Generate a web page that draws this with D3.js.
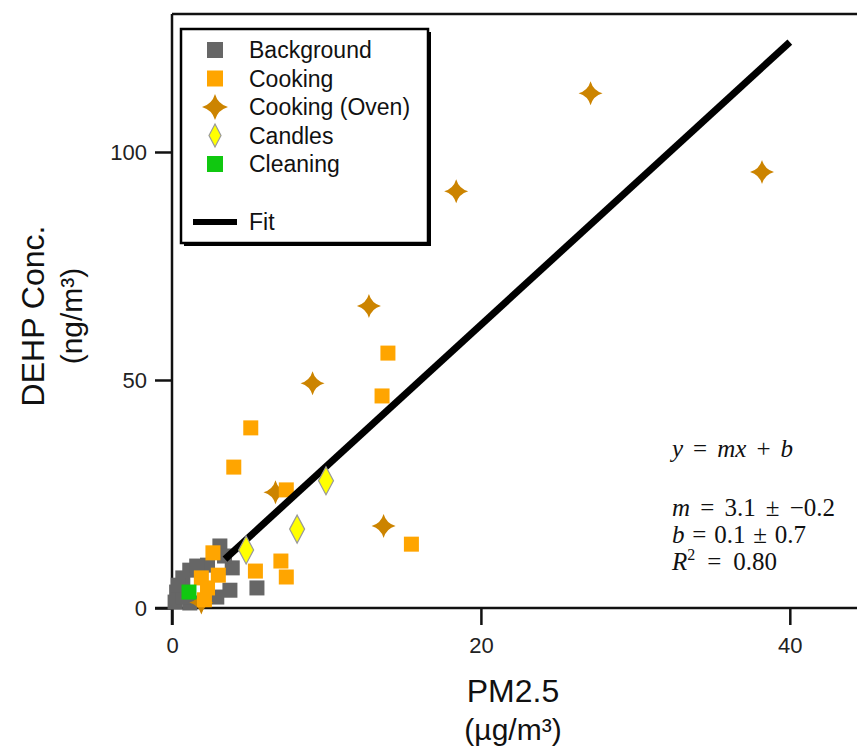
<!DOCTYPE html>
<html>
<head>
<meta charset="utf-8">
<script src="https://cdn.jsdelivr.net/npm/d3@7"></script>
<style>
  html, body { margin: 0; padding: 0; background: #fff; }
  svg { display: block; }
</style>
</head>
<body>
<svg id="chart" width="857" height="748"></svg>
<script>
// ---------- data ----------
const backgroundX = [3.1, 5.5, 1.15, 0.7, 0.3, 0.2, 1.15, 3.9, 3.75, 2.9, 2.3, 3.4, 0.7, 1.6, 0.4];
const backgroundY = [13.6, 4.4, 8.3, 6.6, 3.5, 1.3, 1.1, 8.8, 3.9, 2.4, 9.4, 11.4, 2.4, 9.2, 5.0];

const cookingX = [13.98, 13.6, 5.1, 4.0, 7.4, 15.5, 7.05, 5.4, 7.4, 2.65, 3.0, 1.9, 2.1, 2.3];
const cookingY = [55.9, 46.5, 39.5, 30.9, 25.9, 14.0, 10.3, 8.1, 6.8, 12.1, 7.2, 6.6, 1.8, 4.4];

const ovenX = [27.1, 38.2, 18.4, 12.75, 9.1, 6.7, 13.7, 1.9];
const ovenY = [112.9, 95.6, 91.4, 66.2, 49.3, 25.4, 18.0, 1.2];

const candlesX = [9.97, 8.1, 4.8];
const candlesY = [27.9, 17.3, 12.7];

const cleaningX = [1.1];
const cleaningY = [3.5];

const fitSlope = 3.1, fitIntercept = 0.1;
const fitRange = [3.43, 40];

const xTicks = [0, 20, 40];
const yTicks = [0, 50, 100];
const legendLabels = ["Background", "Cooking", "Cooking (Oven)", "Candles", "Cleaning", "Fit"];

// ---------- layout ----------
const svg = d3.select("#chart");
const x = d3.scaleLinear().domain([0, 44.35]).range([172, 857]);
const y = d3.scaleLinear().domain([0, 130.26]).range([608, 14]);

const COL_BG = "#666666", COL_COOK = "#FFA500", COL_OVEN = "#CC8400",
      COL_CANDLE = "#FFFF00", COL_CLEAN = "#10C810";
const fontSans = "Liberation Sans, Arial, sans-serif";

function starPath(r) {
  const c = r * 0.22;
  return `M0,${-r} Q${c},${-c} ${r},0 Q${c},${c} 0,${r} Q${-c},${c} ${-r},0 Q${-c},${-c} 0,${-r}Z`;
}
function diamondPath(w, h) {
  return `M0,${-h/2} L${w/2},0 L0,${h/2} L${-w/2},0Z`;
}
const zip = (a, b) => a.map((v, i) => [v, b[i]]);

// ---------- frame / axes ----------
const axisColor = "#111";
svg.append("line").attr("x1", x(0)).attr("x2", 857).attr("y1", y.range()[1]).attr("y2", y.range()[1])
  .attr("stroke", axisColor).attr("stroke-width", 2.5);

const xAxis = d3.axisBottom(x).tickValues(xTicks).tickSize(17).tickPadding(12).tickFormat(d3.format("d"));
const gx = svg.append("g").attr("transform", `translate(0,${y(0)})`).call(xAxis);
gx.select(".domain").attr("d", `M${x(0) - 17},0H857`).attr("stroke", axisColor).attr("stroke-width", 2.5);
gx.selectAll(".tick line").attr("stroke", axisColor).attr("stroke-width", 2.5);
gx.selectAll(".tick text").attr("font-family", fontSans).attr("font-size", 22).attr("fill", "#222");

const yAxis = d3.axisLeft(y).tickValues(yTicks).tickSize(17).tickPadding(8).tickFormat(d3.format("d"));
const gy = svg.append("g").attr("transform", `translate(${x(0)},0)`).call(yAxis);
gy.select(".domain").attr("d", `M0,${y.range()[1]}V${y(0) + 17}`).attr("stroke", axisColor).attr("stroke-width", 2.5);
gy.selectAll(".tick line").attr("stroke", axisColor).attr("stroke-width", 2.5);
gy.selectAll(".tick text").attr("font-family", fontSans).attr("font-size", 22).attr("fill", "#222");

// axis titles
svg.append("text").attr("x", 513).attr("y", 702).attr("text-anchor", "middle")
  .attr("font-family", fontSans).attr("font-size", 32).attr("fill", "#111").text("PM2.5");
svg.append("text").attr("x", 513).attr("y", 740).attr("text-anchor", "middle")
  .attr("font-family", fontSans).attr("font-size", 30).attr("fill", "#111").text("(µg/m³)");

svg.append("text").attr("transform", "translate(44,316) rotate(-90)").attr("text-anchor", "middle")
  .attr("font-family", fontSans).attr("font-size", 32).attr("fill", "#111").text("DEHP Conc.");
svg.append("text").attr("transform", "translate(82,316) rotate(-90)").attr("text-anchor", "middle")
  .attr("font-family", fontSans).attr("font-size", 30).attr("fill", "#111").text("(ng/m³)");

// ---------- marks (drawing order: background, oven, cooking, fit, candles, cleaning) ----------
const SQ = 15;

svg.append("g").selectAll("rect").data(zip(backgroundX, backgroundY)).join("rect")
  .attr("x", d => x(d[0]) - SQ/2).attr("y", d => y(d[1]) - SQ/2).attr("width", SQ).attr("height", SQ)
  .attr("fill", COL_BG);

svg.append("g").selectAll("path").data(zip(ovenX, ovenY)).join("path")
  .attr("d", starPath(12)).attr("transform", d => `translate(${x(d[0])},${y(d[1])})`)
  .attr("fill", COL_OVEN);

svg.append("g").selectAll("rect").data(zip(cookingX, cookingY)).join("rect")
  .attr("x", d => x(d[0]) - SQ/2).attr("y", d => y(d[1]) - SQ/2).attr("width", SQ).attr("height", SQ)
  .attr("fill", COL_COOK);

svg.append("line")
  .attr("x1", x(fitRange[0])).attr("y1", y(fitSlope * fitRange[0] + fitIntercept))
  .attr("x2", x(fitRange[1])).attr("y2", y(fitSlope * fitRange[1] + fitIntercept))
  .attr("stroke", "#000").attr("stroke-width", 7);

svg.append("g").selectAll("path").data(zip(candlesX, candlesY)).join("path")
  .attr("d", diamondPath(15, 28)).attr("transform", d => `translate(${x(d[0])},${y(d[1])})`)
  .attr("fill", COL_CANDLE).attr("stroke", "#999").attr("stroke-width", 1.2);

svg.append("g").selectAll("rect").data(zip(cleaningX, cleaningY)).join("rect")
  .attr("x", d => x(d[0]) - SQ/2).attr("y", d => y(d[1]) - SQ/2).attr("width", SQ).attr("height", SQ)
  .attr("fill", COL_CLEAN);

// ---------- legend ----------
const lg = svg.append("g");
const lx = 181, ly = 29, lw = 247, lh = 214;
lg.append("rect").attr("x", lx + 3).attr("y", ly + 3).attr("width", lw).attr("height", lh).attr("fill", "#000");
lg.append("rect").attr("x", lx).attr("y", ly).attr("width", lw).attr("height", lh)
  .attr("fill", "#fff").attr("stroke", "#000").attr("stroke-width", 2.5);

const rowsY = [50, 78.5, 107, 135.5, 164, 222];
const mx = 215, tx = 249;
lg.append("rect").attr("x", mx - 8).attr("y", rowsY[0] - 8).attr("width", 16).attr("height", 16).attr("fill", COL_BG);
lg.append("rect").attr("x", mx - 8).attr("y", rowsY[1] - 8).attr("width", 16).attr("height", 16).attr("fill", COL_COOK);
lg.append("path").attr("d", starPath(13)).attr("transform", `translate(${mx},${rowsY[2]})`).attr("fill", COL_OVEN);
lg.append("path").attr("d", diamondPath(12, 23)).attr("transform", `translate(${mx},${rowsY[3]})`)
  .attr("fill", COL_CANDLE).attr("stroke", "#999").attr("stroke-width", 1.2);
lg.append("rect").attr("x", mx - 8).attr("y", rowsY[4] - 8).attr("width", 16).attr("height", 16).attr("fill", COL_CLEAN);
lg.append("line").attr("x1", 193).attr("x2", 237).attr("y1", rowsY[5]).attr("y2", rowsY[5])
  .attr("stroke", "#000").attr("stroke-width", 6);

lg.selectAll("text").data(legendLabels).join("text")
  .attr("x", tx).attr("y", (d, i) => rowsY[i]).attr("dy", "0.35em")
  .attr("font-family", fontSans).attr("font-size", 23).attr("fill", "#111").text(d => d);

// ---------- equation (TeX-like spacing: extra room only at operator gaps) ----------
const eq = svg.append("g").attr("font-family", "Liberation Serif, Times New Roman, serif")
  .attr("font-size", 25).attr("fill", "#111");
// token: [text, style, gapBefore]
function eqLine(yy, target, tokens) {
  const t = eq.append("text").attr("x", 672).attr("y", yy);
  const spans = tokens.map(p => {
    const s = t.append("tspan").text(p[0]);
    if (p[1] === "i") s.attr("font-style", "italic");
    if (p[1] === "sup") s.attr("font-size", 16).attr("dy", -10);
    if (p[1] === "after") s.attr("dy", 10);
    return s;
  });
  const natural = t.node().getComputedTextLength();
  const gaps = tokens.filter(p => p[2]).length;
  const extra = Math.max(0, (target - natural) / gaps);
  tokens.forEach((p, i) => { if (p[2]) spans[i].attr("dx", extra); });
}
eqLine(457, 121, [["y", "i", 0], ["=", "", 1], ["mx", "i", 1], ["+", "", 1], ["b", "i", 1]]);
eqLine(516, 163, [["m", "i", 0], ["=", "", 1], ["3.1", "", 1], ["±", "", 1], ["−0.2", "", 1]]);
eqLine(543, 134, [["b", "i", 0], ["=", "", 1], ["0.1", "", 1], ["±", "", 1], ["0.7", "", 1]]);
eqLine(570, 105, [["R", "i", 0], ["2", "sup", 0], ["=", "after", 1], ["0.80", "", 1]]);
</script>
</body>
</html>
